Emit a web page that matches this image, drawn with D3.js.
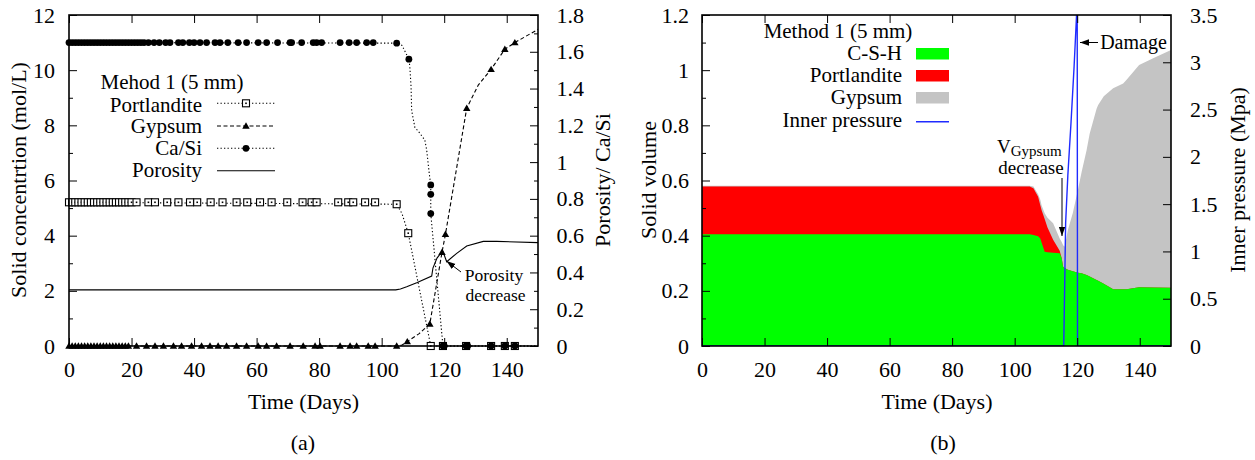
<!DOCTYPE html>
<html><head><meta charset="utf-8">
<script src="https://cdn.jsdelivr.net/npm/d3@7"></script>
<style>
body{margin:0;background:#fff}
svg{display:block}
text{font-family:"Liberation Serif","Times New Roman",serif;fill:#000}
</style>
</head><body>
<svg id="c" width="1255" height="460"></svg>
<script>
// ================= DATA =================
const xTickVals = [0,20,40,60,80,100,120,140];
const aLeftTicks = [0,2,4,6,8,10,12];
const aLeftMinor = [1,3,5,7,9,11];
const aRightTicks = [0,0.2,0.4,0.6,0.8,1,1.2,1.4,1.6,1.8];
const aRightMinor = [0.1,0.3,0.5,0.7,0.9,1.1,1.3,1.5,1.7];
const bLeftTicks = [0,0.2,0.4,0.6,0.8,1,1.2];
const bLeftMinor = [0.1,0.3,0.5,0.7,0.9,1.1];
const bRightTicks = [0,0.5,1,1.5,2,2.5,3,3.5];

// Panel (a) — Portlandite (mol/L, left axis)
const portlanditeLine = [[0,5.21],[104.8,5.14],[106.5,4.8],[108.5,4.09],[115.7,0],[150,0]];
const portlanditeFlatLevel = 5.21;
const portlanditeFlatDays = [0,1,2,3,4,5,6,7,8,9,10,11,12,13,14,15,16,17,18,19,20,21.6,25.4,27.5,31.4,35,38.7,41,45.3,49.1,53.6,57,61.1,64.8,69.8,74.7,77.6,79.2,86.1,89.3,90.9,94.7,97.9];
const portlanditeMarks = [[104.8,5.14],[108.5,4.09],[115.7,0],[119.6,0],[127,0],[135,0],[139.4,0],[142.6,0]];

// Gypsum (mol/L, left axis)
const gypsumLine = [[0,0],[104.8,0],[106.4,0.03],[108.2,0.16],[112,0.45],[115.4,0.8],[119.3,3.4],[120.4,4.05],[127.2,8.62],[130.9,9.46],[135,10.03],[139.4,10.76],[142.6,11.0],[150,11.48]];
const gypsumFlatLevel = 0;
const gypsumFlatDays = [0,1,2,3,4,5,6,7,8,9,10,11,12,13,14,15,16,17,18,19,21.6,24.8,27.5,30.2,33.4,36,39.2,42.4,45.1,47.7,50.4,53.6,56.8,60.5,63.2,66.4,70.7,74.9,78.7,80.3,86.7,89.9,92,95.7,97.9,104.8];
const gypsumMarks = [[108.2,0.16],[115.4,0.8],[119.3,3.4],[120.4,4.05],[127.2,8.62],[135,10.03],[139.4,10.76],[142.6,11.0]];

// Ca/Si (ratio, right axis)
const caSiLine = [[0,1.65],[104.8,1.647],[106.5,1.635],[108.7,1.56],[109.0,1.52],[109.4,1.41],[109.6,1.28],[110.6,1.19],[112.2,1.157],[113.8,1.12],[114.4,1.066],[115.2,0.94],[115.7,0.876],[115.7,0.72],[119.6,0],[150,0]];
const caSiFlatLevel = 1.65;
const caSiFlatDays = [0,1,2,3,4,5,6,7,8,9,10,11,12,13,14,15,16,17,18,19,20,21,22,23,24,25.4,27.2,28.9,30.9,32.3,35,36.4,38.5,40,41.9,44,46.7,48.3,50.8,54.1,56.8,60.5,63.2,66.7,70.7,71.2,74.4,78.1,79.2,80.8,86.7,89.6,92,95.2,97.3];
const caSiMarks = [[104.8,1.647],[108.7,1.56],[115.7,0.876],[115.7,0.825],[115.7,0.72],[119.6,0],[120,0],[127,0],[127.5,0],[135,0],[139.4,0],[142.6,0]];

// Porosity (right axis)
const porosityLine = [[0,0.305],[104.5,0.305],[106,0.31],[108,0.322],[111.2,0.344],[116,0.38],[116.4,0.424],[117.7,0.478],[119.5,0.518],[120.8,0.458],[124,0.504],[127.2,0.544],[132.5,0.569],[136.8,0.569],[150,0.562]];

// Panel (b) — solid volumes (stacked)
const bDays   = [0,    104.8,106,  107.5,108.2,108.6,109.6,110.5,112.3,114.4,115, 115.5,116, 117, 118.6,120.3,121.4,123, 124, 126.2,126.7,128.5,131.5,134.7,135.8,139.8,144.3,150];
const cshVol  = [0.405,0.405,0.402,0.398,0.39, 0.375,0.342,0.34, 0.338,0.336,0.32,0.287,0.283,0.276,0.271,0.266,0.264,0.257,0.252,0.239,0.237,0.226,0.206,0.206,0.206,0.213,0.212,0.211];
const portVol = [0.173,0.173,0.170,0.143,0.12, 0.118,0.118,0.09, 0.047,0.009,0,   0,    0,    0,    0,    0,    0,    0,    0,    0,    0,    0,    0,    0,    0,    0,    0,    0];
const gypVol  = [0.003,0.003,0.006,0.009,0.02, 0.017,0.021,0.035,0.06, 0.045,0.058,0.078,0.077,0.144,0.211,0.304,0.366,0.453,0.518,0.621,0.637,0.679,0.728,0.746,0.759,0.806,0.831,0.862];
// Inner pressure (MPa, right axis)
const pressureLine = [[0,0],[115.7,0],[116.3,1.3],[117.0,1.8],[118.0,2.35],[119.0,2.95],[119.8,3.5],[120.0,3.65],[120.1,0],[150,0]];

// ================= DRAW =================
const svg = d3.select("#c");
const FS = 22;     // axis font
const FL = 21;     // legend font
const FA = 19;     // annotation font
const PA = {l:69, r:538, t:15, b:346};
const PB = {l:702, r:1171, t:15, b:346};

function scales(P, yLdom, yRdom){
  return {
    x: d3.scaleLinear().domain([0,150]).range([P.l,P.r]),
    yL: d3.scaleLinear().domain(yLdom).range([P.b,P.t]),
    yR: d3.scaleLinear().domain(yRdom).range([P.b,P.t])
  };
}
const sa = scales(PA,[0,12],[0,1.8]);
const sb = scales(PB,[0,1.2],[0,3.5]);

function styleAxis(g){
  g.attr("font-family",null).attr("font-size",FS);
  g.select(".domain").remove();
  g.selectAll(".tick line").attr("stroke","#000").attr("stroke-width",1);
  g.selectAll(".tick text").attr("fill","#000");
}
function drawAxes(P,s,o){
  const g = svg.append("g");
  g.append("g").attr("transform",`translate(0,${P.b})`)
    .call(d3.axisBottom(s.x).tickValues(xTickVals).tickSize(-8).tickPadding(15).tickFormat(d3.format("d"))).call(styleAxis);
  g.append("g").attr("transform",`translate(0,${P.t})`)
    .call(d3.axisTop(s.x).tickValues(xTickVals).tickSize(-8).tickFormat("")).call(styleAxis);
  g.append("g").attr("transform",`translate(${P.l},0)`)
    .call(d3.axisLeft(s.yL).tickValues(o.lMaj).tickSize(-8).tickPadding(o.lPad).tickFormat(d=>String(d))).call(styleAxis);
  g.append("g").attr("transform",`translate(${P.l},0)`)
    .call(d3.axisLeft(s.yL).tickValues(o.lMin).tickSize(-4).tickFormat("")).call(styleAxis);
  g.append("g").attr("transform",`translate(${P.r},0)`)
    .call(d3.axisRight(s.yR).tickValues(o.rMaj).tickSize(-8).tickPadding(o.rPad).tickFormat(d=>String(d))).call(styleAxis);
  if(o.rMin) g.append("g").attr("transform",`translate(${P.r},0)`)
    .call(d3.axisRight(s.yR).tickValues(o.rMin).tickSize(-4).tickFormat("")).call(styleAxis);
  g.append("rect").attr("x",P.l).attr("y",P.t).attr("width",P.r-P.l).attr("height",P.b-P.t)
    .attr("fill","none").attr("stroke","#000").attr("stroke-width",1.6);
}

// defs: arrowheads + clip
const defs = svg.append("defs");
defs.append("marker").attr("id","arr").attr("viewBox","0 0 10 10").attr("refX",10).attr("refY",5)
  .attr("markerWidth",9).attr("markerHeight",9).attr("markerUnits","userSpaceOnUse").attr("orient","auto")
  .append("path").attr("d","M0,1.5 L10,5 L0,8.5 Z").attr("fill","#000");
defs.append("clipPath").attr("id","clipB").append("rect")
  .attr("x",PB.l).attr("y",PB.t).attr("width",PB.r-PB.l).attr("height",PB.b-PB.t);

// ---------- Panel (a) ----------
const lineL = d3.line().x(d=>sa.x(d[0])).y(d=>sa.yL(d[1]));
const lineR = d3.line().x(d=>sa.x(d[0])).y(d=>sa.yR(d[1]));
const gA = svg.append("g");
const dotted = "1.3,2.2", dashed = "4,2.5";

gA.append("path").attr("d",lineR(porosityLine)).attr("fill","none").attr("stroke","#000").attr("stroke-width",1.1);
gA.append("path").attr("d",lineL(portlanditeLine)).attr("fill","none").attr("stroke","#000").attr("stroke-width",1.1).attr("stroke-dasharray",dotted);
gA.append("path").attr("d",lineL(gypsumLine)).attr("fill","none").attr("stroke","#000").attr("stroke-width",1.1).attr("stroke-dasharray",dashed);
gA.append("path").attr("d",lineR(caSiLine)).attr("fill","none").attr("stroke","#000").attr("stroke-width",1.1).attr("stroke-dasharray",dotted);

function sq(g,cx,cy){
  g.append("rect").attr("x",cx-3.5).attr("y",cy-3.5).attr("width",7).attr("height",7)
    .attr("fill","#fff").attr("stroke","#000").attr("stroke-width",1.1);
  g.append("rect").attr("x",cx-0.8).attr("y",cy-0.8).attr("width",1.6).attr("height",1.6).attr("fill","#000");
}
const triSym = d3.symbol().type(d3.symbolTriangle).size(24);
function tri(g,cx,cy){ g.append("path").attr("d",triSym()).attr("transform",`translate(${cx},${cy+0.6})`).attr("fill","#000"); }
function dot(g,cx,cy){ g.append("circle").attr("cx",cx).attr("cy",cy).attr("r",3.4).attr("fill","#000"); }

gypsumFlatDays.forEach(d=>tri(gA,sa.x(d),sa.yL(gypsumFlatLevel)));
gypsumMarks.forEach(p=>tri(gA,sa.x(p[0]),sa.yL(p[1])));
portlanditeFlatDays.forEach(d=>sq(gA,sa.x(d),sa.yL(portlanditeFlatLevel)));
portlanditeMarks.forEach(p=>sq(gA,sa.x(p[0]),sa.yL(p[1])));
caSiFlatDays.forEach(d=>dot(gA,sa.x(d),sa.yR(caSiFlatLevel)));
caSiMarks.forEach(p=>dot(gA,sa.x(p[0]),sa.yR(p[1])));

drawAxes(PA,sa,{lMaj:aLeftTicks,lMin:aLeftMinor,lPad:14,rMaj:aRightTicks,rMin:aRightMinor,rPad:18.5});

// legend (a)
const legA = svg.append("g").attr("font-size",FL);
legA.append("text").attr("x",172).attr("y",88.5).attr("text-anchor","middle").text("Mehod 1 (5 mm)");
const legAItems = [
  {t:"Portlandite", y:111.7, ly:103.3, dash:dotted, m:"sq"},
  {t:"Gypsum", y:133.3, ly:126, dash:dashed, m:"tri"},
  {t:"Ca/Si", y:155, ly:148.3, dash:dotted, m:"dot"},
  {t:"Porosity", y:177.3, ly:170.7, dash:null, m:null}
];
legAItems.forEach(it=>{
  legA.append("text").attr("x",202).attr("y",it.y).attr("text-anchor","end").text(it.t);
  legA.append("line").attr("x1",217).attr("x2",275).attr("y1",it.ly).attr("y2",it.ly)
    .attr("stroke","#000").attr("stroke-width",1.1).attr("stroke-dasharray",it.dash);
  if(it.m==="sq") sq(legA,246,it.ly);
  if(it.m==="tri") tri(legA,246,it.ly);
  if(it.m==="dot") dot(legA,246,it.ly);
});

// annotation (a)
svg.append("text").attr("x",494).attr("y",280.5).attr("text-anchor","middle").attr("font-size",17.5).text("Porosity");
svg.append("text").attr("x",495.5).attr("y",301).attr("text-anchor","middle").attr("font-size",17.5).text("decrease");
svg.append("line").attr("x1",461).attr("y1",272).attr("x2",446.5).attr("y2",261)
  .attr("stroke","#000").attr("stroke-width",1).attr("marker-end","url(#arr)");

// axis labels (a)
svg.append("text").attr("transform","translate(18,180) rotate(-90)").attr("text-anchor","middle").attr("dy","0.35em").attr("font-size",FS).text("Solid concentrtion (mol/L)");
svg.append("text").attr("transform","translate(602,180) rotate(-90)").attr("text-anchor","middle").attr("dy","0.35em").attr("font-size",FS).text("Porosity/ Ca/Si");
svg.append("text").attr("x",303.5).attr("y",409).attr("text-anchor","middle").attr("font-size",FS).text("Time (Days)");
svg.append("text").attr("x",303).attr("y",450).attr("text-anchor","middle").attr("font-size",FS).text("(a)");

// ---------- Panel (b) ----------
const rows = bDays.map((d,i)=>({day:d, csh:cshVol[i], port:portVol[i], gyp:gypVol[i]}));
const stacked = d3.stack().keys(["csh","port","gyp"])(rows);
const gB = svg.append("g").attr("clip-path","url(#clipB)");
const fills = {csh:"#00ff00", port:"#ff0000", gyp:"#c4c4c4"};
// draw cumulative areas from the baseline (top layer first) to avoid seams
[...stacked].reverse().forEach(layer=>{
  const area = d3.area().x(d=>sb.x(d.data.day)).y0(sb.yL(0)).y1(d=>sb.yL(d[1]));
  gB.append("path").attr("d",area(layer)).attr("fill",fills[layer.key]);
});
const lineP = d3.line().x(d=>sb.x(d[0])).y(d=>sb.yR(d[1]));
gB.append("path").attr("d",lineP(pressureLine)).attr("fill","none").attr("stroke","#1f2bff").attr("stroke-width",1.4);

drawAxes(PB,sb,{lMaj:bLeftTicks,lMin:bLeftMinor,lPad:13,rMaj:bRightTicks,rMin:null,rPad:19});

// legend (b)
const legB = svg.append("g").attr("font-size",FL);
legB.append("text").attr("x",838).attr("y",37.5).attr("text-anchor","middle").text("Method 1 (5 mm)");
const legBItems = [
  {t:"C-S-H", y:60, c:"#00ff00"},
  {t:"Portlandite", y:82, c:"#ff0000"},
  {t:"Gypsum", y:104, c:"#c4c4c4"}
];
legBItems.forEach(it=>{
  legB.append("text").attr("x",902).attr("y",it.y).attr("text-anchor","end").text(it.t);
  legB.append("rect").attr("x",916).attr("y",it.y-12).attr("width",33).attr("height",11.5).attr("fill",it.c);
});
legB.append("text").attr("x",902).attr("y",127.3).attr("text-anchor","end").text("Inner pressure");
legB.append("line").attr("x1",916).attr("x2",949).attr("y1",121.7).attr("y2",121.7).attr("stroke","#1f2bff").attr("stroke-width",1.4);

// annotations (b)
const vt = svg.append("text").attr("x",997).attr("y",153).attr("font-size",FA);
vt.append("tspan").text("V");
vt.append("tspan").attr("font-size",15).attr("dy",3).text("Gypsum");
svg.append("text").attr("x",1031).attr("y",173.5).attr("text-anchor","middle").attr("font-size",FA).text("decrease");
svg.append("line").attr("x1",1062).attr("y1",178).attr("x2",1062).attr("y2",236)
  .attr("stroke","#000").attr("stroke-width",1).attr("marker-end","url(#arr)");
svg.append("text").attr("x",1133.5).attr("y",49).attr("text-anchor","middle").attr("font-size",FA+1).text("Damage");
svg.append("line").attr("x1",1098).attr("y1",42.5).attr("x2",1080).attr("y2",42.5)
  .attr("stroke","#000").attr("stroke-width",1).attr("marker-end","url(#arr)");

// axis labels (b)
svg.append("text").attr("transform","translate(648,180) rotate(-90)").attr("text-anchor","middle").attr("dy","0.35em").attr("font-size",FS).text("Solid volume");
svg.append("text").attr("transform","translate(1237,180) rotate(-90)").attr("text-anchor","middle").attr("dy","0.35em").attr("font-size",FS).text("Inner pressure (Mpa)");
svg.append("text").attr("x",937).attr("y",409).attr("text-anchor","middle").attr("font-size",FS).text("Time (Days)");
svg.append("text").attr("x",943).attr("y",450).attr("text-anchor","middle").attr("font-size",FS).text("(b)");
</script>
</body></html>
